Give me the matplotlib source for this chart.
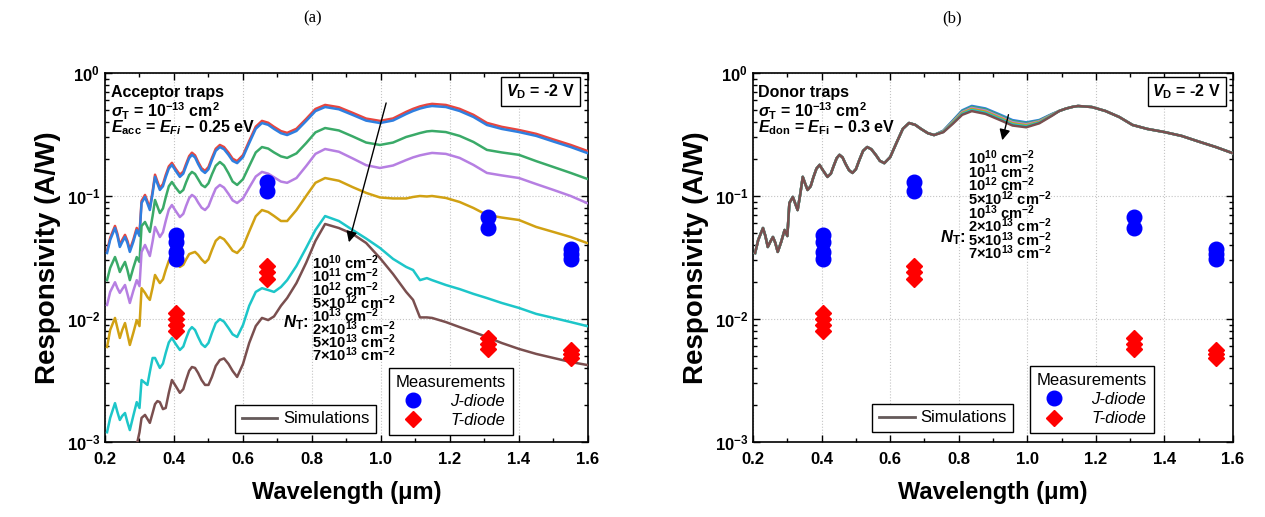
import numpy as np
import matplotlib
matplotlib.use('Agg')
import matplotlib.pyplot as plt
from matplotlib.lines import Line2D
from matplotlib.ticker import MultipleLocator, LogLocator, NullFormatter

plt.rcParams['font.family'] = ['Liberation Sans', 'DejaVu Sans']
plt.rcParams['font.weight'] = 'bold'
plt.rcParams['mathtext.fontset'] = 'custom'
plt.rcParams['mathtext.rm'] = 'Liberation Sans:bold'
plt.rcParams['mathtext.it'] = 'Liberation Sans:bold:italic'
plt.rcParams['mathtext.bf'] = 'Liberation Sans:bold'
plt.rcParams['mathtext.default'] = 'regular'

nan = np.nan

# wavelength grid (um) shared by all simulated curves
wl = [0.206, 0.215, 0.229, 0.236, 0.243, 0.250, 0.258, 0.265, 0.272, 0.282,
      0.292, 0.300, 0.306, 0.316, 0.323, 0.330, 0.338, 0.345, 0.352, 0.359,
      0.368, 0.376, 0.385, 0.394, 0.405, 0.417, 0.427, 0.435, 0.444, 0.452,
      0.461, 0.470, 0.480, 0.490, 0.500, 0.510, 0.521, 0.533, 0.545, 0.558,
      0.570, 0.583, 0.600, 0.618, 0.637, 0.655, 0.673, 0.690, 0.710, 0.728,
      0.755, 0.783, 0.810, 0.838, 0.878, 0.918, 0.957, 0.997, 1.035, 1.073,
      1.093, 1.113, 1.133, 1.148, 1.188, 1.228, 1.268, 1.307, 1.350, 1.400,
      1.450, 1.500, 1.550, 1.597]

# (a) acceptor traps, responsivity (A/W)
acc_red = [0.0358, 0.0457, 0.0571, 0.0492, 0.0400, 0.0440, 0.0483, 0.0432, 0.0365, 0.0440,
           0.0550, 0.0492, 0.0912, 0.102, 0.0904, 0.0800, 0.109, 0.149, 0.131, 0.116,
           0.125, 0.148, 0.174, 0.186, 0.166, 0.149, 0.158, 0.182, 0.211, 0.225,
           0.214, 0.189, 0.168, 0.160, 0.172, 0.204, 0.242, 0.260, 0.250, 0.225,
           0.201, 0.192, 0.215, 0.280, 0.366, 0.408, 0.394, 0.365, 0.337, 0.326,
           0.352, 0.423, 0.510, 0.550, 0.527, 0.474, 0.426, 0.408, 0.427, 0.483,
           0.511, 0.535, 0.552, 0.561, 0.550, 0.511, 0.457, 0.393, 0.365, 0.344,
           0.320, 0.288, 0.260, 0.233]
acc_blue = [0.0344, 0.0439, 0.0549, 0.0473, 0.0385, 0.0423, 0.0464, 0.0415, 0.0351, 0.0423,
            0.0529, 0.0473, 0.0877, 0.0982, 0.0869, 0.0769, 0.105, 0.143, 0.126, 0.112,
            0.120, 0.142, 0.167, 0.179, 0.160, 0.143, 0.152, 0.175, 0.203, 0.216,
            0.206, 0.182, 0.162, 0.154, 0.165, 0.196, 0.233, 0.250, 0.240, 0.216,
            0.193, 0.185, 0.207, 0.269, 0.352, 0.392, 0.379, 0.351, 0.324, 0.313,
            0.338, 0.407, 0.490, 0.529, 0.507, 0.456, 0.410, 0.392, 0.411, 0.464,
            0.491, 0.514, 0.531, 0.539, 0.529, 0.491, 0.439, 0.378, 0.351, 0.331,
            0.308, 0.277, 0.250, 0.224]
acc_green = [0.0207, 0.0260, 0.0319, 0.0280, 0.0241, 0.0265, 0.0291, 0.0250, 0.0207, 0.0260,
             0.0319, 0.0291, 0.0570, 0.0615, 0.0560, 0.0510, 0.0687, 0.0928, 0.0822, 0.0727,
             0.0792, 0.0973, 0.120, 0.130, 0.117, 0.106, 0.112, 0.129, 0.148, 0.157,
             0.151, 0.137, 0.123, 0.118, 0.127, 0.150, 0.176, 0.189, 0.177, 0.153,
             0.131, 0.123, 0.137, 0.175, 0.226, 0.250, 0.243, 0.226, 0.210, 0.204,
             0.222, 0.269, 0.329, 0.357, 0.341, 0.305, 0.272, 0.260, 0.272, 0.302,
             0.313, 0.325, 0.335, 0.338, 0.331, 0.308, 0.275, 0.237, 0.226, 0.216,
             0.192, 0.172, 0.154, 0.138]
acc_purple = [0.0130, 0.0166, 0.0199, 0.0178, 0.0163, 0.0175, 0.0189, 0.0160, 0.0135, 0.0169,
              0.0207, 0.0185, 0.0351, 0.0400, 0.0361, 0.0325, 0.0427, 0.0560, 0.0510, 0.0464,
              0.0507, 0.0626, 0.0775, 0.0845, 0.0755, 0.0674, 0.0716, 0.0830, 0.0961, 0.102,
              0.0979, 0.0885, 0.0803, 0.0769, 0.0825, 0.0973, 0.115, 0.123, 0.117, 0.104,
              0.0921, 0.0877, 0.0955, 0.117, 0.144, 0.157, 0.152, 0.142, 0.131, 0.128,
              0.140, 0.175, 0.220, 0.241, 0.229, 0.202, 0.178, 0.169, 0.177, 0.196,
              0.206, 0.214, 0.220, 0.224, 0.220, 0.204, 0.179, 0.154, 0.147, 0.140,
              0.125, 0.112, 0.100, 0.0877]
acc_gold = [0.00592, 0.00814, 0.0102, 0.00844, 0.00701, 0.00814, 0.00927, 0.00755, 0.00615, 0.00770,
            0.0098, 0.00876, 0.0178, 0.0163, 0.0151, 0.0143, 0.0180, 0.0228, 0.0211, 0.0196,
            0.0210, 0.0250, 0.0297, 0.0319, 0.0291, 0.0265, 0.0276, 0.0305, 0.0337, 0.0344,
            0.0351, 0.0332, 0.0305, 0.0286, 0.0306, 0.0364, 0.0432, 0.0464, 0.0445, 0.0400,
            0.0359, 0.0344, 0.0387, 0.0514, 0.0684, 0.0769, 0.0741, 0.0688, 0.0626, 0.0626,
            0.0769, 0.100, 0.128, 0.140, 0.133, 0.118, 0.106, 0.0973, 0.0955, 0.0955,
            0.0982, 0.100, 0.0991, 0.100, 0.0964, 0.0894, 0.0799, 0.0701, 0.0668, 0.0638,
            0.0560, 0.0510, 0.0464, 0.0415]
acc_cyan = [0.00120, 0.00157, 0.00207, 0.00175, 0.00151, 0.00163, 0.00172, 0.00145, 0.00125, 0.00163,
            0.00211, 0.00189, 0.00319, 0.00302, 0.00291, 0.00371, 0.00482, 0.00482, 0.00439, 0.00400,
            0.00434, 0.00529, 0.00645, 0.00701, 0.00626, 0.00560, 0.00597, 0.00694, 0.00808, 0.00859,
            0.00814, 0.00714, 0.00626, 0.00592, 0.00639, 0.00770, 0.00925, 0.00997, 0.00951, 0.00844,
            0.00750, 0.00714, 0.00893, 0.0128, 0.0166, 0.0178, 0.0172, 0.0166, 0.0182, 0.0207,
            0.0270, 0.0378, 0.0529, 0.0687, 0.0626, 0.0529, 0.0451, 0.0378, 0.0308, 0.0265,
            0.0250, 0.0207, 0.0215, 0.0207, 0.0189, 0.0175, 0.0160, 0.0148, 0.0135, 0.0123,
            0.0110, 0.0102, 0.00944, 0.00876]
acc_brown = [nan, nan, nan, nan, nan, nan, nan, nan, nan, nan,
             0.000947, 0.00120, 0.00157, 0.00166, 0.00154, 0.00143, 0.00172, 0.00203, 0.00215, 0.00211,
             0.00185, 0.00189, 0.00251, 0.00319, 0.00285, 0.00251, 0.00269, 0.00319, 0.00379, 0.00407,
             0.00400, 0.00364, 0.00319, 0.00291, 0.00291, 0.00338, 0.00415, 0.00464, 0.00478, 0.00431,
             0.00378, 0.00338, 0.00431, 0.00638, 0.00876, 0.0102, 0.0098, 0.0105, 0.0128, 0.0148,
             0.0196, 0.0286, 0.0431, 0.0592, 0.0549, 0.0491, 0.0415, 0.0313, 0.0232, 0.0166,
             0.0143, 0.0103, 0.0103, 0.0102, 0.00944, 0.00859, 0.00784, 0.00714, 0.00638, 0.00571,
             0.00520, 0.00482, 0.00447, 0.00423]

# (b) donor traps: all curves coincide except between 0.75 and 1.08 um
don_base = acc_blue
don_blue_mid = [0.340, 0.412, 0.497, 0.540, 0.515, 0.462, 0.414, 0.397, 0.415, 0.466]
don_green_mid = [0.338, 0.407, 0.489, 0.530, 0.505, 0.453, 0.406, 0.390, 0.410, 0.463]
don_purple_mid = [0.336, 0.402, 0.481, 0.520, 0.495, 0.444, 0.398, 0.383, 0.405, 0.460]
don_gold_mid = [0.334, 0.397, 0.473, 0.510, 0.485, 0.435, 0.390, 0.376, 0.400, 0.457]
don_cyan_mid = [0.332, 0.392, 0.465, 0.500, 0.475, 0.426, 0.382, 0.369, 0.395, 0.454]
don_brown_mid = [0.330, 0.387, 0.457, 0.490, 0.465, 0.417, 0.374, 0.362, 0.390, 0.451]

# measurements
j_wl = [0.405, 0.405, 0.405, 0.405, 0.67, 0.67, 1.31, 1.31, 1.55, 1.55, 1.55]
j_resp = [0.048, 0.042, 0.035, 0.031, 0.13, 0.11, 0.067, 0.055, 0.037, 0.034, 0.031]
t_wl = [0.405, 0.405, 0.405, 0.405, 0.67, 0.67, 0.67, 1.31, 1.31, 1.31, 1.55, 1.55, 1.55]
t_resp = [0.0112, 0.0100, 0.0089, 0.0080, 0.027, 0.024, 0.021,
          0.0070, 0.0063, 0.0057, 0.0056, 0.0052, 0.0048]

nt_labels = [r'$10^{10}$ cm$^{-2}$', r'$10^{11}$ cm$^{-2}$', r'$10^{12}$ cm$^{-2}$',
             r'5×$10^{12}$ cm$^{-2}$', r'$10^{13}$ cm$^{-2}$', r'2×$10^{13}$ cm$^{-2}$',
             r'5×$10^{13}$ cm$^{-2}$', r'7×$10^{13}$ cm$^{-2}$']

c_red = '#e8463f'
c_blue = '#2f7fe0'
c_green = '#3aaa68'
c_purple = '#b67fe2'
c_gold = '#d1a113'
c_cyan = '#1dc6c9'
c_brown = '#7a4f4f'


def setup(ax):
    ax.set_yscale('log')
    ax.set_xlim(0.2, 1.6)
    ax.set_ylim(1e-3, 1)
    ax.xaxis.set_major_locator(MultipleLocator(0.2))
    ax.xaxis.set_minor_locator(MultipleLocator(0.1))
    ax.yaxis.set_major_locator(LogLocator(base=10, numticks=10))
    ax.yaxis.set_minor_locator(LogLocator(base=10, subs=np.arange(2, 10), numticks=10))
    ax.yaxis.set_minor_formatter(NullFormatter())
    ax.tick_params(which='both', direction='in', top=True, right=True, labelsize=12, width=1)
    ax.tick_params(which='major', length=5)
    ax.tick_params(which='minor', length=3)
    ax.tick_params(axis='x', pad=7)
    ax.grid(True, which='major', ls=':', color='#c4c4c4', lw=0.8)
    ax.set_axisbelow(True)
    for s in ax.spines.values():
        s.set_linewidth(1.2)
    ax.set_xlabel('Wavelength (μm)', fontsize=17, fontweight='bold', labelpad=10)
    ax.set_ylabel('Responsivity (A/W)', fontsize=20, fontweight='bold', labelpad=4)


def measurements(ax, sim_pos, meas_pos):
    ax.plot(j_wl, j_resp, ls='none', marker='o', ms=10.5, color='#0000ff', zorder=4)
    ax.plot(t_wl, t_resp, ls='none', marker='D', ms=8.5, color='#ff0000', zorder=4)
    sim = Line2D([], [], color='#655a5a', lw=2)
    leg1 = ax.legend([sim], ['Simulations'], loc='lower left', bbox_to_anchor=sim_pos,
                     borderaxespad=0, fancybox=False, edgecolor='k', framealpha=1,
                     handlelength=2.15, handletextpad=0.35, borderpad=0.4,
                     prop={'weight': 'normal', 'size': 12})
    leg1.get_frame().set_linewidth(1.0)
    ax.add_artist(leg1)
    jh = Line2D([], [], ls='none', marker='o', ms=10.5, color='#0000ff')
    th = Line2D([], [], ls='none', marker='D', ms=8.5, color='#ff0000')
    leg2 = ax.legend([jh, th], ['J-diode', 'T-diode'], title='Measurements',
                     loc='lower left', bbox_to_anchor=meas_pos, borderaxespad=0,
                     fancybox=False, edgecolor='k', framealpha=1, handletextpad=1.2,
                     labelspacing=0.25, prop={'weight': 'normal', 'style': 'italic', 'size': 12},
                     title_fontproperties={'weight': 'normal', 'size': 12})
    leg2.get_frame().set_linewidth(1.0)


fig = plt.figure(figsize=(12.65, 5.17), dpi=100)
ax1 = fig.add_axes([0.0830, 0.1451, 0.3818, 0.7137])
ax2 = fig.add_axes([0.5953, 0.1451, 0.3794, 0.7137])

# (a)
for vals, col in [(acc_red, c_red), (acc_blue, c_blue), (acc_green, c_green),
                  (acc_purple, c_purple), (acc_gold, c_gold), (acc_cyan, c_cyan),
                  (acc_brown, c_brown)]:
    ax1.plot(wl, vals, color=col, lw=1.8, zorder=3)
setup(ax1)
measurements(ax1, (0.269, 0.024), (0.588, 0.019))

ax1.text(0.012, 0.946, 'Acceptor traps', transform=ax1.transAxes, fontsize=11.5, va='center')
ax1.text(0.012, 0.897, r'$\mathit{\sigma}_{T}$ = $10^{-13}$ cm$^{2}$', transform=ax1.transAxes,
         fontsize=11.5, va='center')
ax1.text(0.012, 0.851, r'$\mathit{E}_{acc}$ = $\mathit{E}_{\mathit{Fi}}$ − 0.25 eV',
         transform=ax1.transAxes, fontsize=11.5, va='center')
ax1.text(0.973, 0.975, r'$\mathit{V}_{D}$ = -2 V', transform=ax1.transAxes, fontsize=11.5,
         ha='right', va='top',
         bbox=dict(boxstyle='square,pad=0.3', fc='white', ec='k', lw=1.0))
for i, lab in enumerate(nt_labels):
    ax1.text(0.4286, 0.485 - i * 0.0355, lab, transform=ax1.transAxes, fontsize=10.5, va='center')
ax1.text(0.3685, 0.3225, r'$\mathit{N}_{T}$:', transform=ax1.transAxes, fontsize=12, va='center')
ax1.annotate('', xy=(0.905, 0.040), xytext=(1.017, 0.60),
             arrowprops=dict(arrowstyle='-|>', color='k', lw=1.0, mutation_scale=16))

# (b)
mid_lists = [(don_blue_mid, c_blue), (don_green_mid, c_green), (don_purple_mid, c_purple),
             (don_gold_mid, c_gold), (don_cyan_mid, c_cyan), (don_brown_mid, c_brown)]
for mid, col in mid_lists:
    vals = don_base[:50] + mid + don_base[60:]
    ax2.plot(wl, vals, color=col, lw=1.8, zorder=3)
setup(ax2)
measurements(ax2, (0.248, 0.027), (0.577, 0.024))

ax2.text(0.010, 0.946, 'Donor traps', transform=ax2.transAxes, fontsize=11.5, va='center')
ax2.text(0.010, 0.897, r'$\mathit{\sigma}_{T}$ = $10^{-13}$ cm$^{2}$', transform=ax2.transAxes,
         fontsize=11.5, va='center')
ax2.text(0.010, 0.851, r'$\mathit{E}_{don}$ = $\mathit{E}_{Fi}$ − 0.3 eV',
         transform=ax2.transAxes, fontsize=11.5, va='center')
ax2.text(0.975, 0.975, r'$\mathit{V}_{D}$ = -2 V', transform=ax2.transAxes, fontsize=11.5,
         ha='right', va='top',
         bbox=dict(boxstyle='square,pad=0.3', fc='white', ec='k', lw=1.0))
for i, lab in enumerate(nt_labels):
    ax2.text(0.448, 0.770 - i * 0.0369, lab, transform=ax2.transAxes, fontsize=10.5, va='center')
ax2.text(0.390, 0.553, r'$\mathit{N}_{T}$:', transform=ax2.transAxes, fontsize=12, va='center')
ax2.annotate('', xy=(0.925, 0.270), xytext=(0.947, 0.482),
             arrowprops=dict(arrowstyle='-|>', color='k', lw=1.0, mutation_scale=16))

fig.text(313 / 1265, 1 - 18 / 517, '(a)', family='Liberation Serif', fontsize=12,
         fontweight='normal', ha='center', va='center')
fig.text(952 / 1265, 1 - 18 / 517, '(b)', family='Liberation Serif', fontsize=12,
         fontweight='normal', ha='center', va='center')

fig.savefig('out.png', dpi=100)
